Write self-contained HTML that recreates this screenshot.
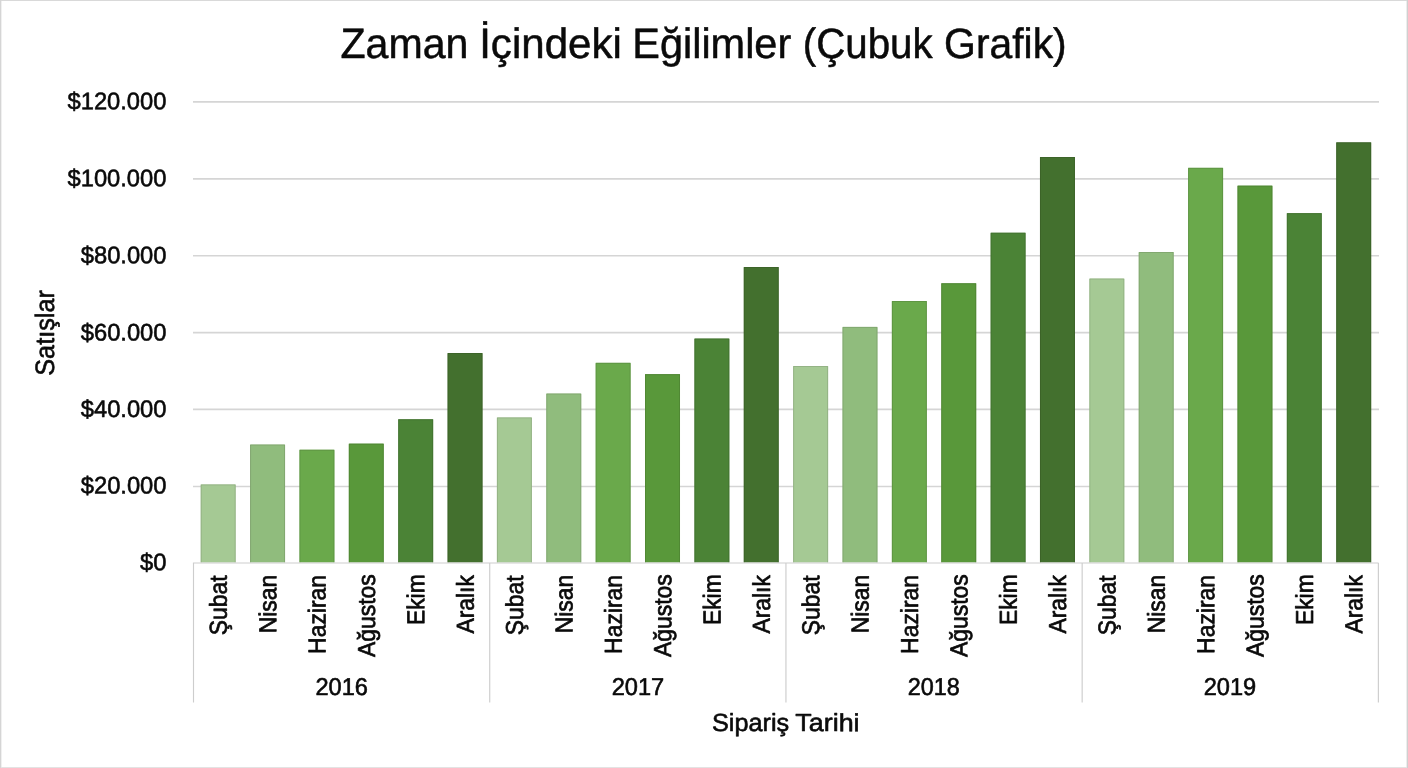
<!DOCTYPE html>
<html lang="tr">
<head>
<meta charset="utf-8">
<title>Zaman İçindeki Eğilimler (Çubuk Grafik)</title>
<style>
html,body{margin:0;padding:0;background:#fff;}
body{width:1408px;height:768px;overflow:hidden;position:relative;}
svg{display:block;position:absolute;left:0;top:0;}
text{font-family:"Liberation Sans",Arial,Helvetica,sans-serif;fill:#0a0a0a;stroke:#0a0a0a;stroke-width:0.6px;stroke-linejoin:round;text-rendering:geometricPrecision;}
.t{stroke-width:0.5px;}
.m{stroke-width:0.7px;}
</style>
</head>
<body>
<svg width="1408" height="768" viewBox="0 0 1408 768">
<rect x="0" y="0" width="1408" height="768" fill="#ffffff"/>
<rect x="0" y="0" width="1408" height="1" fill="#d9d9d9"/>
<rect x="0" y="767" width="1408" height="1" fill="#e3e3e3"/>
<rect x="0" y="0" width="1" height="768" fill="#d5d5d5"/>
<rect x="1" y="1" width="1" height="766" fill="#f0f0f0"/>
<rect x="1407" y="0" width="1" height="768" fill="#d0d0d0"/>
<rect x="1406" y="1" width="1" height="766" fill="#ededed"/>
<text transform="translate(702.95,58.00) rotate(0)" font-size="42.4" class="t"><tspan x="-362.53" textLength="128.00" lengthAdjust="spacingAndGlyphs">Zaman</tspan> <tspan x="-223.79" textLength="142.66" lengthAdjust="spacingAndGlyphs">İçindeki</tspan> <tspan x="-70.72" textLength="159.00" lengthAdjust="spacingAndGlyphs">Eğilimler</tspan> <tspan x="99.78" textLength="129.87" lengthAdjust="spacingAndGlyphs">(Çubuk</tspan> <tspan x="241.16" textLength="122.60" lengthAdjust="spacingAndGlyphs">Grafik)</tspan></text>
<g stroke="#d5d5d5" stroke-width="1.6">
<line x1="193" y1="101.9" x2="1379" y2="101.9"/>
<line x1="193" y1="178.9" x2="1379" y2="178.9"/>
<line x1="193" y1="255.7" x2="1379" y2="255.7"/>
<line x1="193" y1="332.6" x2="1379" y2="332.6"/>
<line x1="193" y1="409.4" x2="1379" y2="409.4"/>
<line x1="193" y1="486.5" x2="1379" y2="486.5"/>
</g>
<text transform="translate(67.51,109.32) rotate(0.03) scale(0.9840,1)" font-size="24.1">$120.000</text>
<text transform="translate(67.51,186.32) rotate(0.03) scale(0.9840,1)" font-size="24.1">$100.000</text>
<text transform="translate(80.79,263.34) rotate(0.03) scale(0.9840,1)" font-size="24.1">$80.000</text>
<text transform="translate(80.79,340.38) rotate(0.03) scale(0.9840,1)" font-size="24.1">$60.000</text>
<text transform="translate(80.79,416.88) rotate(0.03) scale(0.9840,1)" font-size="24.1">$40.000</text>
<text transform="translate(80.79,493.48) rotate(0.03) scale(0.9840,1)" font-size="24.1">$20.000</text>
<text transform="translate(140.08,570.18) rotate(0.03) scale(0.9840,1)" font-size="24.1">$0</text>
<rect x="200.69" y="484.4" width="35.0" height="78.05" fill="#a5c994"/>
<polyline points="201.19,562.45 201.19,484.9 235.19,484.9 235.19,562.45" fill="none" stroke="#849d76" stroke-width="1" stroke-opacity="0.5"/>
<rect x="250.06" y="444.5" width="35.0" height="117.95" fill="#90bc7d"/>
<polyline points="250.56,562.45 250.56,445.0 284.56,445.0 284.56,562.45" fill="none" stroke="#739364" stroke-width="1" stroke-opacity="0.5"/>
<rect x="299.43" y="449.7" width="35.0" height="112.75" fill="#6aa94b"/>
<polyline points="299.93,562.45 299.93,450.2 333.93,450.2 333.93,562.45" fill="none" stroke="#54843c" stroke-width="1" stroke-opacity="0.5"/>
<rect x="348.80" y="443.6" width="35.0" height="118.85" fill="#59983a"/>
<polyline points="349.30,562.45 349.30,444.1 383.30,444.1 383.30,562.45" fill="none" stroke="#47772e" stroke-width="1" stroke-opacity="0.5"/>
<rect x="398.17" y="419.2" width="35.0" height="143.25" fill="#4b8336"/>
<polyline points="398.67,562.45 398.67,419.7 432.67,419.7 432.67,562.45" fill="none" stroke="#3c662b" stroke-width="1" stroke-opacity="0.5"/>
<rect x="447.54" y="353.0" width="35.0" height="209.45" fill="#43702e"/>
<polyline points="448.04,562.45 448.04,353.5 482.04,353.5 482.04,562.45" fill="none" stroke="#355724" stroke-width="1" stroke-opacity="0.5"/>
<rect x="496.90" y="417.4" width="35.0" height="145.05" fill="#a5c994"/>
<polyline points="497.40,562.45 497.40,417.9 531.40,417.9 531.40,562.45" fill="none" stroke="#849d76" stroke-width="1" stroke-opacity="0.5"/>
<rect x="546.27" y="393.5" width="35.0" height="168.95" fill="#90bc7d"/>
<polyline points="546.77,562.45 546.77,394.0 580.77,394.0 580.77,562.45" fill="none" stroke="#739364" stroke-width="1" stroke-opacity="0.5"/>
<rect x="595.64" y="362.8" width="35.0" height="199.65" fill="#6aa94b"/>
<polyline points="596.14,562.45 596.14,363.3 630.14,363.3 630.14,562.45" fill="none" stroke="#54843c" stroke-width="1" stroke-opacity="0.5"/>
<rect x="645.01" y="374.1" width="35.0" height="188.35" fill="#59983a"/>
<polyline points="645.51,562.45 645.51,374.6 679.51,374.6 679.51,562.45" fill="none" stroke="#47772e" stroke-width="1" stroke-opacity="0.5"/>
<rect x="694.38" y="338.5" width="35.0" height="223.95" fill="#4b8336"/>
<polyline points="694.88,562.45 694.88,339.0 728.88,339.0 728.88,562.45" fill="none" stroke="#3c662b" stroke-width="1" stroke-opacity="0.5"/>
<rect x="743.75" y="267.0" width="35.0" height="295.45" fill="#43702e"/>
<polyline points="744.25,562.45 744.25,267.5 778.25,267.5 778.25,562.45" fill="none" stroke="#355724" stroke-width="1" stroke-opacity="0.5"/>
<rect x="793.12" y="366.0" width="35.0" height="196.45" fill="#a5c994"/>
<polyline points="793.62,562.45 793.62,366.5 827.62,366.5 827.62,562.45" fill="none" stroke="#849d76" stroke-width="1" stroke-opacity="0.5"/>
<rect x="842.49" y="326.9" width="35.0" height="235.55" fill="#90bc7d"/>
<polyline points="842.99,562.45 842.99,327.4 876.99,327.4 876.99,562.45" fill="none" stroke="#739364" stroke-width="1" stroke-opacity="0.5"/>
<rect x="891.86" y="301.0" width="35.0" height="261.45" fill="#6aa94b"/>
<polyline points="892.36,562.45 892.36,301.5 926.36,301.5 926.36,562.45" fill="none" stroke="#54843c" stroke-width="1" stroke-opacity="0.5"/>
<rect x="941.23" y="283.2" width="35.0" height="279.25" fill="#59983a"/>
<polyline points="941.73,562.45 941.73,283.7 975.73,283.7 975.73,562.45" fill="none" stroke="#47772e" stroke-width="1" stroke-opacity="0.5"/>
<rect x="990.60" y="232.7" width="35.0" height="329.75" fill="#4b8336"/>
<polyline points="991.10,562.45 991.10,233.2 1025.11,233.2 1025.11,562.45" fill="none" stroke="#3c662b" stroke-width="1" stroke-opacity="0.5"/>
<rect x="1039.97" y="157.0" width="35.0" height="405.45" fill="#43702e"/>
<polyline points="1040.47,562.45 1040.47,157.5 1074.47,157.5 1074.47,562.45" fill="none" stroke="#355724" stroke-width="1" stroke-opacity="0.5"/>
<rect x="1089.34" y="278.5" width="35.0" height="283.95" fill="#a5c994"/>
<polyline points="1089.84,562.45 1089.84,279.0 1123.84,279.0 1123.84,562.45" fill="none" stroke="#849d76" stroke-width="1" stroke-opacity="0.5"/>
<rect x="1138.71" y="252.0" width="35.0" height="310.45" fill="#90bc7d"/>
<polyline points="1139.21,562.45 1139.21,252.5 1173.21,252.5 1173.21,562.45" fill="none" stroke="#739364" stroke-width="1" stroke-opacity="0.5"/>
<rect x="1188.09" y="167.8" width="35.0" height="394.65" fill="#6aa94b"/>
<polyline points="1188.59,562.45 1188.59,168.3 1222.59,168.3 1222.59,562.45" fill="none" stroke="#54843c" stroke-width="1" stroke-opacity="0.5"/>
<rect x="1237.45" y="185.6" width="35.0" height="376.85" fill="#59983a"/>
<polyline points="1237.95,562.45 1237.95,186.1 1271.95,186.1 1271.95,562.45" fill="none" stroke="#47772e" stroke-width="1" stroke-opacity="0.5"/>
<rect x="1286.82" y="213.1" width="35.0" height="349.35" fill="#4b8336"/>
<polyline points="1287.32,562.45 1287.32,213.6 1321.32,213.6 1321.32,562.45" fill="none" stroke="#3c662b" stroke-width="1" stroke-opacity="0.5"/>
<rect x="1336.19" y="142.3" width="35.0" height="420.15" fill="#43702e"/>
<polyline points="1336.69,562.45 1336.69,142.8 1370.69,142.8 1370.69,562.45" fill="none" stroke="#355724" stroke-width="1" stroke-opacity="0.5"/>
<g stroke="#cdcdcd" stroke-width="1.15" fill="none">
<line x1="192.9" y1="563.0" x2="1378.6" y2="563.0"/>
<line x1="193.50" y1="563.0" x2="193.50" y2="702.5"/>
<line x1="489.72" y1="563.0" x2="489.72" y2="702.5"/>
<line x1="785.94" y1="563.0" x2="785.94" y2="702.5"/>
<line x1="1082.16" y1="563.0" x2="1082.16" y2="702.5"/>
<line x1="1378.38" y1="563.0" x2="1378.38" y2="702.5"/>
</g>
<text transform="translate(226.78,635.19) rotate(-89.95) scale(0.9343,1)" font-size="24.5" class="m">Şubat</text>
<text transform="translate(276.16,633.32) rotate(-89.95) scale(0.9330,1)" font-size="24.5" class="m">Nisan</text>
<text transform="translate(325.53,653.92) rotate(-89.95) scale(0.9358,1)" font-size="24.5" class="m">Haziran</text>
<text transform="translate(374.89,657.05) rotate(-89.95) scale(0.9360,1)" font-size="24.5" class="m">Ağustos</text>
<text transform="translate(424.26,625.05) rotate(-89.95) scale(0.9325,1)" font-size="24.5" class="m">Ekim</text>
<text transform="translate(473.63,633.45) rotate(-89.95) scale(0.9308,1)" font-size="24.5" class="m">Aralık</text>
<text transform="translate(523.00,635.19) rotate(-89.95) scale(0.9343,1)" font-size="24.5" class="m">Şubat</text>
<text transform="translate(572.38,633.32) rotate(-89.95) scale(0.9330,1)" font-size="24.5" class="m">Nisan</text>
<text transform="translate(621.75,653.92) rotate(-89.95) scale(0.9358,1)" font-size="24.5" class="m">Haziran</text>
<text transform="translate(671.12,657.05) rotate(-89.95) scale(0.9360,1)" font-size="24.5" class="m">Ağustos</text>
<text transform="translate(720.49,625.05) rotate(-89.95) scale(0.9325,1)" font-size="24.5" class="m">Ekim</text>
<text transform="translate(769.86,633.45) rotate(-89.95) scale(0.9308,1)" font-size="24.5" class="m">Aralık</text>
<text transform="translate(819.23,635.19) rotate(-89.95) scale(0.9343,1)" font-size="24.5" class="m">Şubat</text>
<text transform="translate(868.60,633.32) rotate(-89.95) scale(0.9330,1)" font-size="24.5" class="m">Nisan</text>
<text transform="translate(917.97,653.92) rotate(-89.95) scale(0.9358,1)" font-size="24.5" class="m">Haziran</text>
<text transform="translate(967.34,657.05) rotate(-89.95) scale(0.9360,1)" font-size="24.5" class="m">Ağustos</text>
<text transform="translate(1016.70,625.05) rotate(-89.95) scale(0.9325,1)" font-size="24.5" class="m">Ekim</text>
<text transform="translate(1066.07,633.45) rotate(-89.95) scale(0.9308,1)" font-size="24.5" class="m">Aralık</text>
<text transform="translate(1115.44,635.19) rotate(-89.95) scale(0.9343,1)" font-size="24.5" class="m">Şubat</text>
<text transform="translate(1164.81,633.32) rotate(-89.95) scale(0.9330,1)" font-size="24.5" class="m">Nisan</text>
<text transform="translate(1214.18,653.92) rotate(-89.95) scale(0.9358,1)" font-size="24.5" class="m">Haziran</text>
<text transform="translate(1263.55,657.05) rotate(-89.95) scale(0.9360,1)" font-size="24.5" class="m">Ağustos</text>
<text transform="translate(1312.92,625.05) rotate(-89.95) scale(0.9325,1)" font-size="24.5" class="m">Ekim</text>
<text transform="translate(1362.29,633.45) rotate(-89.95) scale(0.9308,1)" font-size="24.5" class="m">Aralık</text>
<text transform="translate(315.38,694.90) rotate(0.03) scale(0.9678,1)" font-size="24.4">2016</text>
<text transform="translate(611.70,695.10) rotate(0.03) scale(0.9685,1)" font-size="24.4">2017</text>
<text transform="translate(907.68,695.10) rotate(0.03) scale(0.9601,1)" font-size="24.4">2018</text>
<text transform="translate(1203.69,695.10) rotate(0.03) scale(0.9678,1)" font-size="24.4">2019</text>
<text transform="translate(785.50,731.10) rotate(0.03)" font-size="24.8"><tspan x="-73.46" textLength="77.09" lengthAdjust="spacingAndGlyphs">Sipariş</tspan> <tspan x="9.86" textLength="64.21" lengthAdjust="spacingAndGlyphs">Tarihi</tspan></text>
<text transform="translate(54.00,375.76) rotate(-89.95) scale(0.9500,1)" font-size="26.6">Satışlar</text>
</svg>
</body>
</html>
